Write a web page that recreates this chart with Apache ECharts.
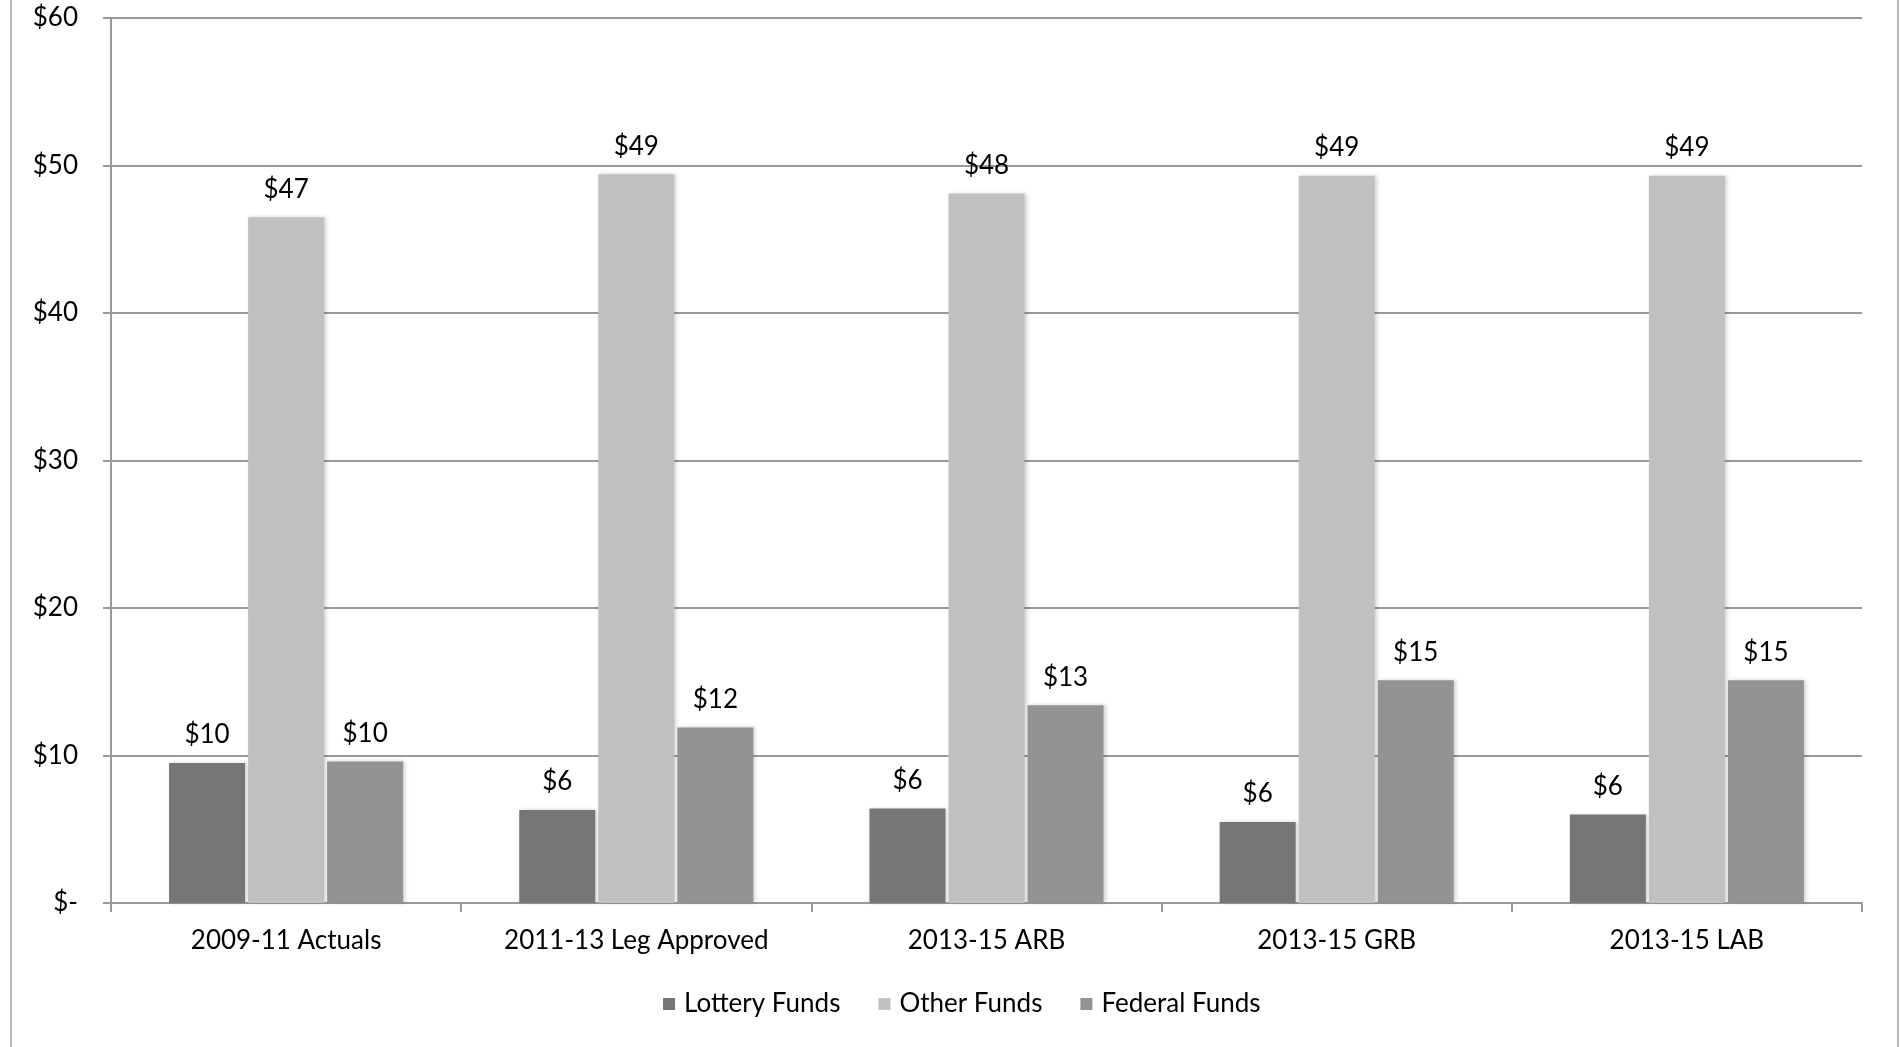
<!DOCTYPE html>
<html>
<head>
<meta charset="utf-8">
<script src="https://cdn.jsdelivr.net/npm/echarts@6/dist/echarts.min.js"></script>
<style>
  html, body { margin: 0; padding: 0; background: #fff; }
  #chart { width: 1900px; height: 1047px; }
</style>
</head>
<body>
<div id="chart"></div>
<script>
var categories = ['2009-11 Actuals', '2011-13 Leg Approved', '2013-15 ARB', '2013-15 GRB', '2013-15 LAB']
var lotteryFunds = [9.5, 6.3, 6.4, 5.5, 6.0]
var otherFunds = [46.5, 49.4, 48.1, 49.3, 49.3]
var federalFunds = [9.6, 11.9, 13.4, 15.1, 15.1]
var seriesNames = ['Lottery Funds', 'Other Funds', 'Federal Funds']

var FONT = 'Lato'
var FONT_SIZE = 26
var chart = echarts.init(document.getElementById('chart'))

function barSeries (name, data, color) {
  return {
    name: name,
    type: 'bar',
    data: data,
    barWidth: 76,
    barGap: '4%',
    itemStyle: {
      color: color,
      shadowColor: 'rgba(0,0,0,0.18)',
      shadowBlur: 4,
      shadowOffsetX: 2,
      shadowOffsetY: 0
    },
    label: {
      show: true,
      position: 'top',
      distance: 15,
      color: '#000',
      fontFamily: FONT,
      fontSize: FONT_SIZE,
      formatter: function (p) {
        return '$' + Math.round(p.value)
      }
    }
  }
}

chart.setOption({
  animation: false,
  textStyle: { fontFamily: FONT },
  graphic: [
    {
      type: 'rect',
      shape: { x: 11, y: -5, width: 1887, height: 1060 },
      style: { fill: 'none', stroke: '#a0a0a0', lineWidth: 1.5 },
      silent: true
    }
  ],
  legend: {
    left: 658,
    top: 986,
    itemWidth: 12,
    itemHeight: 12,
    itemGap: 38,
    icon: 'rect',
    data: seriesNames,
    textStyle: {
      fontFamily: FONT,
      fontSize: FONT_SIZE,
      color: '#000',
      padding: [0, 0, 0, 4]
    }
  },
  grid: {
    left: 111,
    right: 38,
    top: 18,
    bottom: 144
  },
  xAxis: {
    type: 'category',
    data: categories,
    axisLine: { lineStyle: { color: '#999', width: 2 } },
    axisTick: { show: true, length: 9, lineStyle: { color: '#999', width: 2 } },
    axisLabel: {
      margin: 25,
      color: '#000',
      fontFamily: FONT,
      fontSize: FONT_SIZE,
      interval: 0
    }
  },
  yAxis: {
    type: 'value',
    min: 0,
    max: 60,
    interval: 10,
    axisLine: { show: true, lineStyle: { color: '#999', width: 2 } },
    axisTick: { show: true, length: 8, lineStyle: { color: '#999', width: 2 } },
    splitLine: { lineStyle: { color: '#999', width: 2 } },
    axisLabel: {
      margin: 33,
      color: '#000',
      fontFamily: FONT,
      fontSize: FONT_SIZE,
      formatter: function (v) {
        return v === 0 ? '$-' : '$' + v
      }
    }
  },
  series: [
    barSeries(seriesNames[0], lotteryFunds, '#767676'),
    barSeries(seriesNames[1], otherFunds, '#c0c0c0'),
    barSeries(seriesNames[2], federalFunds, '#939393')
  ]
})
</script>
</body>
</html>
